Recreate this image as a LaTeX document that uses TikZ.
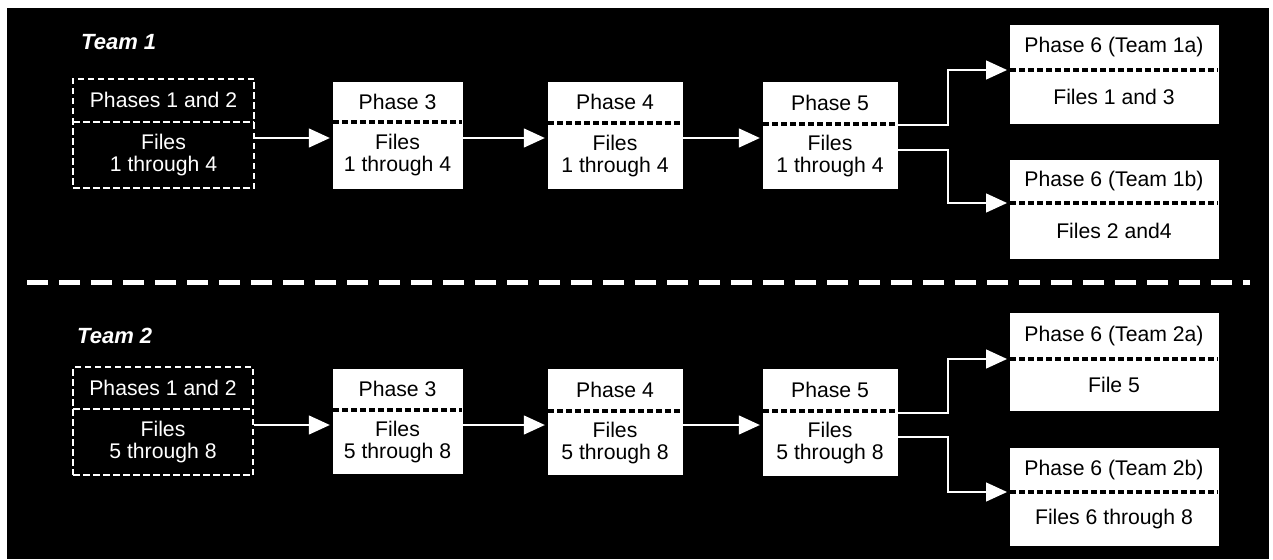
\documentclass[tikz,border=0pt]{standalone}
\usepackage{fontspec}
\setmainfont{Liberation Sans}
\usetikzlibrary{arrows.meta,fit,calc}

\tikzset{
  stage/.style={fill=white, draw=white, line width=0.4pt, inner sep=0pt},
  early/.style={draw=white, line width=1.8pt, dash pattern=on 6.5pt off 3.5pt, inner sep=0pt},
  stage divider/.style={draw=black, line width=4pt, dash pattern=on 6pt off 3pt},
  early divider/.style={draw=white, line width=1.8pt, dash pattern=on 6.5pt off 3.5pt},
  stage text/.style={text=black, font=\fontsize{21.2}{22}\selectfont, align=center, inner sep=0pt},
  early text/.style={text=white, font=\fontsize{21.2}{22}\selectfont, align=center, inner sep=0pt},
  team/.style={text=white, font=\fontsize{22}{24}\selectfont\bfseries\itshape, anchor=west, inner sep=0pt},
  flow/.style={draw=white, line width=1.3pt, -{Triangle[length=21pt,width=19pt]}, shorten >=3pt},
  split/.style={draw=white, line width=5pt, dash pattern=on 21pt off 11pt},
}

% A two-part box: #1 kind (stage/early), #2 name, #3 left, #4 top,
% #5 right, #6 bottom, #7 divider level, #8 upper text, #9 lower text
\newcommand\stagebox[9]{%
  \coordinate (#2-nw) at (#3,#4);
  \coordinate (#2-se) at (#5,#6);
  \coordinate (#2-dw) at (#3,#7);
  \coordinate (#2-de) at (#5,#7);
  \node[#1, fit=(#2-nw)(#2-se)] (#2) {};
  \draw[#1 divider] (#2-dw) -- (#2-de);
  \node[#1 text] (#2-up) at ($(#2.north)!0.5!(#2-dw -| #2.north)$) {#8};
  \node[#1 text] (#2-lo) at ($(#2.south)!0.5!(#2-dw -| #2.south)$) {#9};
}

\begin{document}
\begin{tikzpicture}[x=1pt, y=-1pt]
\useasboundingbox (0,0) rectangle (1273,559);
\fill[white] (0,0) rectangle (1273,559);
\fill[black] (7,8) rectangle (1269,559);

% ---- Team 1 ----
\node[team] (team1) at (81,42) {Team 1};
\stagebox{early}{t1a}{73}{79}{254}{188}{122}{Phases 1 and 2}{Files\\1 through 4}
\stagebox{stage}{t1b}{333}{82}{462}{188}{122}{Phase 3}{Files\\1 through 4}
\stagebox{stage}{t1c}{548}{82}{682}{188}{123}{Phase 4}{Files\\1 through 4}
\stagebox{stage}{t1d}{763}{82}{897}{188}{124}{Phase 5}{Files\\1 through 4}
\stagebox{stage}{t1e}{1010}{25}{1218}{123}{70}{Phase 6 (Team 1a)}{Files 1 and 3}
\stagebox{stage}{t1f}{1010}{160}{1218}{258}{203}{Phase 6 (Team 1b)}{Files 2 and4}

\coordinate (t1row) at (0,138);
\draw[flow] (t1a.east |- t1row) -- (t1b.west |- t1row);
\draw[flow] (t1b.east |- t1row) -- (t1c.west |- t1row);
\draw[flow] (t1c.east |- t1row) -- (t1d.west |- t1row);
\coordinate (t1forkA) at (948,125);
\coordinate (t1forkB) at (948,150);
\draw[flow] (t1d.east |- t1forkA) -- (t1forkA) |- (t1e-dw);
\draw[flow] (t1d.east |- t1forkB) -- (t1forkB) |- (t1f-dw);

% ---- separator ----
\coordinate (splitL) at (27,282);
\coordinate (splitR) at (1250,282);
\draw[split] (splitL) -- (splitR);

% ---- Team 2 ----
\node[team] (team2) at (77,336) {Team 2};
\stagebox{early}{t2a}{73}{367}{253}{475}{409}{Phases 1 and 2}{Files\\5 through 8}
\stagebox{stage}{t2b}{333}{369}{462}{473}{410}{Phase 3}{Files\\5 through 8}
\stagebox{stage}{t2c}{548}{369}{682}{474}{411}{Phase 4}{Files\\5 through 8}
\stagebox{stage}{t2d}{763}{369}{897}{475}{411}{Phase 5}{Files\\5 through 8}
\stagebox{stage}{t2e}{1010}{313}{1218}{410}{359}{Phase 6 (Team 2a)}{File 5}
\stagebox{stage}{t2f}{1010}{448}{1218}{545}{492}{Phase 6 (Team 2b)}{Files 6 through 8}

\coordinate (t2row) at (0,425);
\draw[flow] (t2a.east |- t2row) -- (t2b.west |- t2row);
\draw[flow] (t2b.east |- t2row) -- (t2c.west |- t2row);
\draw[flow] (t2c.east |- t2row) -- (t2d.west |- t2row);
\coordinate (t2forkA) at (948,413);
\coordinate (t2forkB) at (948,437);
\draw[flow] (t2d.east |- t2forkA) -- (t2forkA) |- (t2e-dw);
\draw[flow] (t2d.east |- t2forkB) -- (t2forkB) |- (t2f-dw);
\end{tikzpicture}
\end{document}
